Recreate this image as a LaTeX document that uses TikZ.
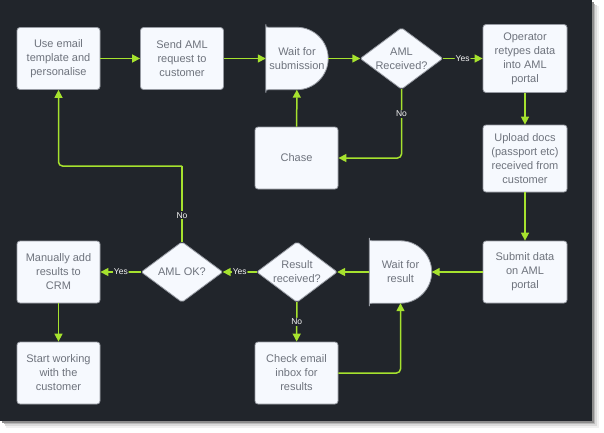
\documentclass[tikz,border=0pt]{standalone}
\usepackage{fontspec}
\setmainfont{Liberation Sans}
\usetikzlibrary{arrows.meta}
\definecolor{bgdark}{RGB}{33,37,43}
\definecolor{boxfill}{RGB}{246,249,254}
\definecolor{boxline}{RGB}{150,154,162}
\definecolor{txt}{RGB}{110,115,125}
\definecolor{lime}{RGB}{166,226,46}
\pgfdeclarelayer{bg}
\pgfdeclarelayer{shp}
\pgfsetlayers{bg,shp,main}
\tikzset{
  box/.style={draw=boxline, fill=boxfill, rounded corners=3pt, line width=0.8pt,
    minimum width=83pt, minimum height=62pt, inner sep=0pt, align=center,
    font=\fontsize{11}{14}\selectfont, text=txt},
  holder/.style={inner sep=0pt, align=center, font=\fontsize{11}{14}\selectfont, text=txt},
  diam/.style={holder, minimum width=82pt, minimum height=61pt},
  delay/.style={holder, minimum width=62pt, minimum height=62pt},
  boxshape/.style={draw=boxline, fill=boxfill, line width=0.8pt},
  arr/.style={draw=lime, line width=1.5pt, -{Triangle[length=8pt,width=8pt]}, rounded corners=4pt},
  lbl/.style={fill=bgdark, text=white!92!gray, font=\fontsize{8.5}{10}\selectfont, inner sep=1pt}
}
\begin{document}
\begin{tikzpicture}[x=1pt,y=-1pt]
\useasboundingbox (0,0) rectangle (604,432);
\begin{pgfonlayer}{bg}
\fill[black!6] (6,6) rectangle (599,428);
\fill[black!14] (5,5) rectangle (597,426);
\fill[black!28] (4,4) rectangle (595,424);
\fill[black!45] (2,2) rectangle (593.5,422.5);
\fill[bgdark] (0,0) rectangle (592,421);
\end{pgfonlayer}

% nodes
\node[box] (n1) at (58.5,58.5) {Use email\\template and\\personalise};
\node[box] (n2) at (182,58.5) {Send AML\\request to\\customer};
\node[delay] (n3) at (297,58.5) {Wait for\\submission};
\node[diam] (n4) at (401.5,58.5) {AML\\Received?};
\node[box, minimum width=84pt, minimum height=68pt] (n5) at (525,58.5) {Operator\\retypes data\\into AML\\portal};
\node[box, minimum width=84pt, minimum height=67pt] (n6) at (525,158.5) {Upload docs\\(passport etc)\\received from\\customer};
\node[box, minimum width=84pt] (n7) at (525,272) {Submit data\\on AML\\portal};
\node[delay] (n8) at (400.5,272) {Wait for\\result};
\node[diam, minimum width=80pt, minimum height=60pt] (n9) at (297,272) {Result\\received?};
\node[diam, minimum width=81pt, minimum height=60pt] (n10) at (182,272) {AML OK?};
\node[box] (n11) at (58.5,272) {Manually add\\results to\\CRM};
\node[box] (n12) at (58.5,373) {Start working\\with the\\customer};
\node[box] (n13) at (296.5,373) {Check email\\inbox for\\results};
\node[box] (n14) at (296.5,158) {Chase};
\coordinate (c1) at (182,166);

\begin{pgfonlayer}{shp}
\foreach \d in {n4,n9,n10}{
  \draw[boxshape, rounded corners=2pt] (\d.north) -- (\d.east) -- (\d.south) -- (\d.west) -- cycle;
}
\foreach \d in {n3,n8}{
  \draw[boxshape] (\d.north) .. controls +(17.1,0) and +(0,-17.1) .. (\d.east)
     .. controls +(0,17.1) and +(17.1,0) .. (\d.south) -- ([xshift=3pt]\d.south west)
     .. controls (\d.south west) .. ([yshift=-3pt]\d.south west) -- ([yshift=3pt]\d.north west)
     .. controls (\d.north west) .. ([xshift=3pt]\d.north west) -- cycle;
}
\end{pgfonlayer}

% connectors
\draw[arr] (n1) -- (n2);
\draw[arr] (n2) -- (n3);
\draw[arr] (n3) -- (n4);
\draw[arr] (n4) -- node[lbl]{Yes} (n5);
\draw[arr] (n5) -- (n6);
\draw[arr] (n6) -- (n7);
\draw[arr] (n7) -- (n8);
\draw[arr] (n8) -- (n9);
\draw[arr] (n9) -- node[lbl]{Yes} (n10);
\draw[arr] (n10) -- node[lbl]{Yes} (n11);
\draw[arr] (n11) -- (n12);
\draw[arr] (n9) -- node[lbl]{No} (n13);
\draw[arr] (n13) -| (n8);
\draw[arr] (n4) |- node[lbl, pos=0.18]{No} (n14);
\draw[arr] (n14) -- (n3);
\draw[draw=lime, line width=1.5pt] (n10) -- node[lbl, pos=0.35]{No} (c1);
\draw[arr] (c1) -| (n1);
\end{tikzpicture}
\end{document}
